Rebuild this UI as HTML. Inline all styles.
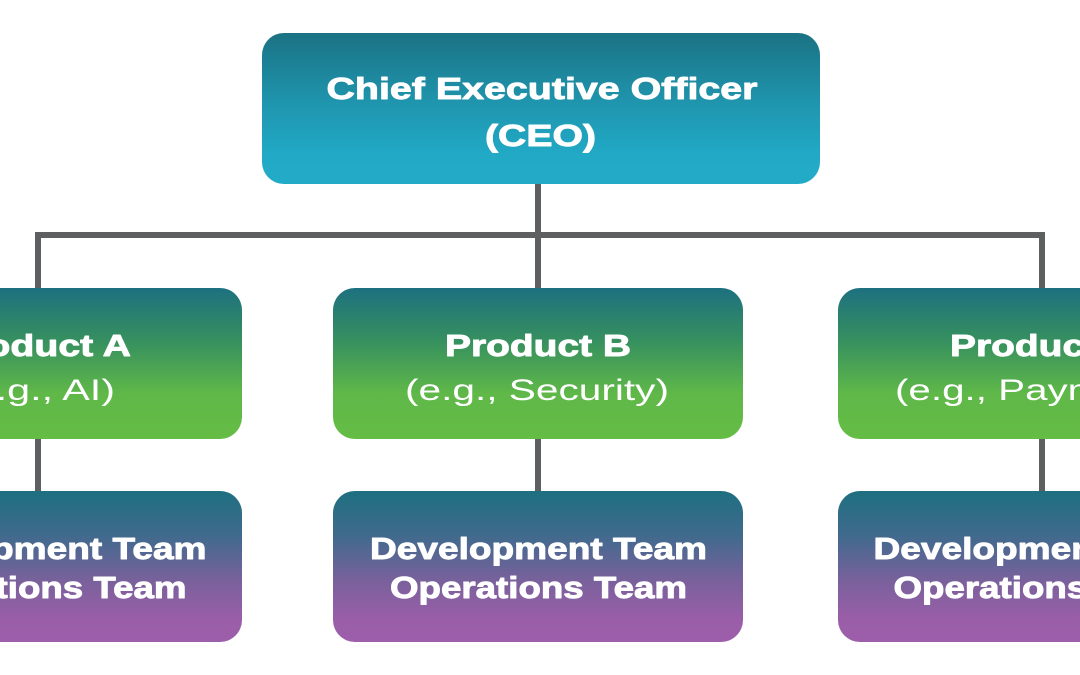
<!DOCTYPE html>
<html>
<head>
<meta charset="utf-8">
<style>
  html, body { margin: 0; padding: 0; background: #ffffff; }
  body { width: 1080px; height: 675px; overflow: hidden; }
  svg { display: block; }
  .b { font-family: "Liberation Sans", "DejaVu Sans", sans-serif; font-weight: bold; font-size: 31px; fill: #ffffff; stroke: #ffffff; stroke-width: 0.9px; stroke-linejoin: round; }
  .r { font-family: "Liberation Sans", "DejaVu Sans", sans-serif; font-weight: normal; font-size: 30px; fill: #ffffff; }
</style>
</head>
<body>
<svg width="1080" height="675" viewBox="0 0 1080 675" xmlns="http://www.w3.org/2000/svg">
  <defs>
    <linearGradient id="gCeo" x1="0" y1="0" x2="0" y2="1">
      <stop offset="0" stop-color="#1b7283"/>
      <stop offset="0.45" stop-color="#1f94ad"/>
      <stop offset="0.8" stop-color="#21a9c5"/>
      <stop offset="1" stop-color="#22abc7"/>
    </linearGradient>
    <linearGradient id="gProd" x1="0" y1="0" x2="0" y2="1">
      <stop offset="0" stop-color="#1d707f"/>
      <stop offset="0.35" stop-color="#36905f"/>
      <stop offset="0.7" stop-color="#5fb848"/>
      <stop offset="1" stop-color="#65bd45"/>
    </linearGradient>
    <linearGradient id="gDev" x1="0" y1="0" x2="0" y2="1">
      <stop offset="0" stop-color="#1d6f80"/>
      <stop offset="0.3" stop-color="#416a8d"/>
      <stop offset="0.6" stop-color="#7a619c"/>
      <stop offset="0.85" stop-color="#9a5ea8"/>
      <stop offset="1" stop-color="#9d5eaa"/>
    </linearGradient>
  </defs>

  <!-- connectors -->
  <g stroke="#5e5f61" stroke-width="6" fill="none">
    <line x1="538" y1="184" x2="538" y2="238"/>
    <line x1="35" y1="235" x2="1045" y2="235"/>
    <line x1="38" y1="232" x2="38" y2="290"/>
    <line x1="538" y1="232" x2="538" y2="290"/>
    <line x1="1042" y1="232" x2="1042" y2="290"/>
    <line x1="38" y1="438" x2="38" y2="493"/>
    <line x1="538" y1="438" x2="538" y2="493"/>
    <line x1="1042" y1="438" x2="1042" y2="493"/>
  </g>

  <!-- CEO -->
  <rect x="262" y="33" width="558" height="151" rx="22" ry="22" fill="url(#gCeo)"/>
  <text class="b" x="542" y="99" text-anchor="middle" textLength="431" lengthAdjust="spacingAndGlyphs">Chief Executive Officer</text>
  <text class="b" x="540.5" y="146" text-anchor="middle" textLength="111" lengthAdjust="spacingAndGlyphs">(CEO)</text>

  <!-- Product boxes -->
  <rect x="-168" y="288" width="410" height="151" rx="22" ry="22" fill="url(#gProd)"/>
  <rect x="333" y="288" width="410" height="151" rx="22" ry="22" fill="url(#gProd)"/>
  <rect x="838" y="288" width="410" height="151" rx="22" ry="22" fill="url(#gProd)"/>

  <text class="b" x="38" y="356" text-anchor="middle" textLength="186" lengthAdjust="spacingAndGlyphs">Product A</text>
  <text class="r" x="37" y="400" text-anchor="middle" textLength="156" lengthAdjust="spacingAndGlyphs">(e.g., AI)</text>

  <text class="b" x="538" y="356" text-anchor="middle" textLength="186" lengthAdjust="spacingAndGlyphs">Product B</text>
  <text class="r" x="537" y="400" text-anchor="middle" textLength="264" lengthAdjust="spacingAndGlyphs">(e.g., Security)</text>

  <text class="b" x="1043" y="356" text-anchor="middle" textLength="186" lengthAdjust="spacingAndGlyphs">Product C</text>
  <text class="r" x="1043" y="400" text-anchor="middle" textLength="296" lengthAdjust="spacingAndGlyphs">(e.g., Payments)</text>

  <!-- Team boxes -->
  <rect x="-168" y="491" width="410" height="151" rx="22" ry="22" fill="url(#gDev)"/>
  <rect x="333" y="491" width="410" height="151" rx="22" ry="22" fill="url(#gDev)"/>
  <rect x="838" y="491" width="410" height="151" rx="22" ry="22" fill="url(#gDev)"/>

  <text class="b" x="38" y="559" text-anchor="middle" textLength="337" lengthAdjust="spacingAndGlyphs">Development Team</text>
  <text class="b" x="38" y="598" text-anchor="middle" textLength="297" lengthAdjust="spacingAndGlyphs">Operations Team</text>

  <text class="b" x="538.5" y="559" text-anchor="middle" textLength="337" lengthAdjust="spacingAndGlyphs">Development Team</text>
  <text class="b" x="538.5" y="598" text-anchor="middle" textLength="297" lengthAdjust="spacingAndGlyphs">Operations Team</text>

  <text class="b" x="1042" y="559" text-anchor="middle" textLength="337" lengthAdjust="spacingAndGlyphs">Development Team</text>
  <text class="b" x="1042" y="598" text-anchor="middle" textLength="297" lengthAdjust="spacingAndGlyphs">Operations Team</text>
</svg>
</body>
</html>
